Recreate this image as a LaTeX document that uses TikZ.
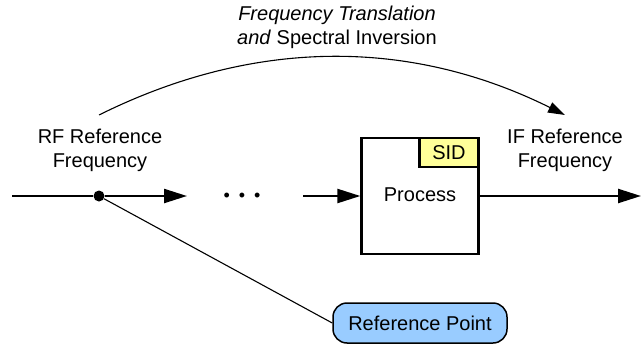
\documentclass[tikz,border=0pt]{standalone}
\usepackage{fontspec}
\setmainfont{Liberation Sans}
\usetikzlibrary{arrows.meta}
\definecolor{sidyellow}{HTML}{FFFF99}
\definecolor{refblue}{HTML}{99CCFF}
\begin{document}
\begin{tikzpicture}[x=1pt,y=-1pt,
  every node/.style={font=\fontsize{20}{24}\selectfont},
  label/.style={align=center, inner sep=0pt},
  signal/.style={line width=2.3pt, -{Triangle[length=23pt,width=14pt]}},
  procbox/.style={draw, line width=2.3pt, fill=white, minimum width=117pt, minimum height=116pt, inner sep=0pt},
  tagbox/.style={draw, line width=2.3pt, fill=sidyellow, minimum width=59pt, minimum height=29pt, inner sep=0pt},
  refbox/.style={draw, line width=1.5pt, fill=refblue, rounded corners=14pt, minimum width=174pt, minimum height=40pt, inner sep=0pt},
  pointer/.style={line width=1.1pt},
  mapping/.style={line width=1.1pt, -{Triangle[length=17pt,width=11pt]}}]
\useasboundingbox (0,0) rectangle (642,345);

% signal chain
\coordinate (src) at (12,196);
\node[circle, fill=black, minimum size=11pt, inner sep=0pt] (tap) at (99,196) {};
\coordinate (a1) at (187,196);
\node[inner sep=0pt, font=\fontsize{18}{20}\selectfont] (gap) at (242,197) {•\hspace{9pt}•\hspace{9pt}•};
\coordinate (a2) at (303,196);
\node[procbox] (proc) at (420,196) {};
\node[inner sep=0pt] (proctext) at (420,195) {Process};
\node[tagbox, anchor=north east] (sid) at (proc.north east) {SID};
\coordinate (out) at (641,196);

\draw[line width=2.3pt] (src) -- (tap);
\draw[signal] (tap) -- (a1);
\draw[signal] (a2) -- (proc.west);
\draw[signal] (proc.east) -- (out);

% labels
\node[label] (rf) at (100,150) {RF Reference\\Frequency};
\node[label] (if) at (565,150) {IF Reference\\Frequency};
\node[label] (title) at (337,27) {\textit{Frequency Translation}\\\textit{and} Spectral Inversion};

% frequency mapping arc
\coordinate (arcstart) at (99,115);
\coordinate (arcend) at (565,115);
\draw[mapping] (arcstart) .. controls (254,38) and (410,38) .. (arcend);

% reference point callout
\node[refbox] (refpt) at (420,323) {Reference Point};
\draw[pointer] (tap) -- (refpt.west);
\end{tikzpicture}
\end{document}
